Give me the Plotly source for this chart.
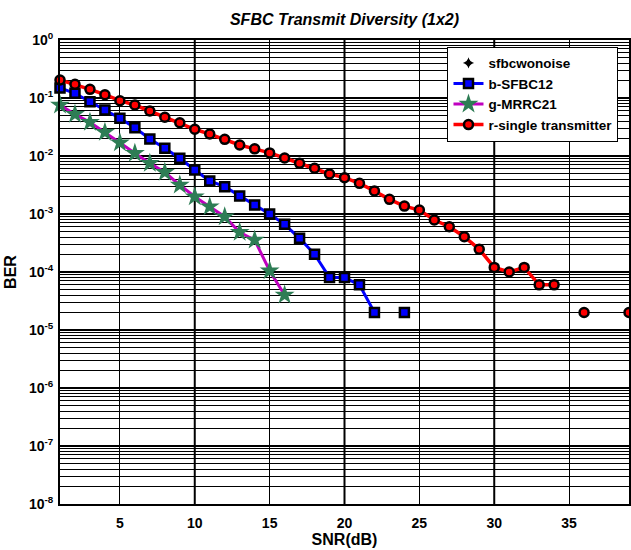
import plotly.graph_objects as go

snr = list(range(1, 40))

sfbc12 = [0.149, 0.1205, 0.0863, 0.0621, 0.0447, 0.0308, 0.0196, 0.0136, 0.00912, 0.00574,
          0.00371, 0.00296, 0.00204, 0.00143, 0.00100, 0.000664, 0.000381, 0.000202, 8.0e-5, 8.0e-5,
          6.0e-5, 2.0e-5, None, 2.0e-5] + [None] * 15

mrrc21 = [0.0757, 0.0524, 0.0381, 0.0256, 0.01695, 0.01114, 0.00748, 0.00524, 0.00316, 0.00199,
          0.00134, 0.000898, 0.000483, 0.000356, 1.05e-4, 4.0e-5] + [None] * 23

single = [0.204, 0.172, 0.141, 0.114, 0.0898, 0.0757, 0.0597, 0.0465, 0.0375, 0.0289,
          0.0239, 0.0194, 0.0155, 0.0133, 0.0113, 0.00924, 0.00748, 0.00614, 0.00490, 0.00423,
          0.00338, 0.00249, 0.00179, 0.00137, 0.00117, 0.000788, 0.000604, 0.000406, 0.000246, 1.2e-4,
          1.0e-4, 1.2e-4, 6.0e-5, 6.0e-5, None, 2.0e-5, None, None, 2.0e-5]

x_ticks = [5, 10, 15, 20, 25, 30, 35]
thick_x_grid = [10, 20, 30]
y_exps = list(range(-8, 1))
y_ticktext = ["10<sup>%d</sup>" % e for e in y_exps]
y_minor = [k * 10.0 ** e for e in range(-8, 0) for k in range(2, 10)]

FONT = "Liberation Sans"

fig = go.Figure()

fig.add_trace(go.Scatter(
    x=[None], y=[None], mode="markers", name="<b>sfbcwonoise</b>", legendgroup="a",
    marker=dict(symbol="star-diamond", size=8, color="black")))

fig.add_trace(go.Scatter(
    x=snr, y=sfbc12, mode="lines+markers", name="<b>b-SFBC12</b>", legendgroup="b",
    line=dict(color="#0000ff", width=3),
    marker=dict(symbol="square", size=9, color="#0000ff", line=dict(color="black", width=2.5)),
    cliponaxis=False))

fig.add_trace(go.Scatter(
    x=snr, y=mrrc21, mode="lines+markers", name="<b>g-MRRC21</b>", legendgroup="c",
    line=dict(color="#bf00bf", width=3),
    marker=dict(symbol="star", size=15, color="#2e7d55", line=dict(width=0)),
    cliponaxis=False))

fig.add_trace(go.Scatter(
    x=snr, y=single, mode="lines+markers", name="<b>r-single transmitter</b>", legendgroup="d",
    line=dict(color="#ff0000", width=3.5),
    marker=dict(symbol="circle", size=9, color="#ff0000", line=dict(color="black", width=2.5)),
    cliponaxis=False))

for xv in thick_x_grid:
    fig.add_shape(type="line", xref="x", yref="paper", x0=xv, x1=xv, y0=0, y1=1,
                  line=dict(color="black", width=2), layer="below")

fig.update_layout(
    width=631, height=550,
    margin=dict(l=60, r=0, t=40, b=46),
    paper_bgcolor="white", plot_bgcolor="white",
    font=dict(family=FONT, color="black", size=14),
    title=dict(text="<b><i>SFBC Transmit Diversity (1x2)</i></b>", x=0.5, xref="paper",
               xanchor="center", y=1 - 19 / 550, yref="container", yanchor="middle",
               font=dict(size=16, family=FONT)),
    showlegend=True,
    legend=dict(x=0.681, y=0.9856, xanchor="left", yanchor="top",
                bgcolor="white", bordercolor="black", borderwidth=1,
                font=dict(size=13.5, family=FONT), tracegroupgap=0,
                itemwidth=30),
)

fig.update_xaxes(
    range=[1, 39], tickvals=x_ticks, ticktext=["<b>%d</b>" % v for v in x_ticks],
    showgrid=True, gridcolor="black", gridwidth=1,
    showline=True, linecolor="black", linewidth=2, mirror=True,
    ticks="", zeroline=False, ticklabelstandoff=5,
    title=dict(text="<b>SNR(dB)</b>", font=dict(size=16, family=FONT), standoff=4),
    tickfont=dict(size=14, family=FONT),
)

fig.update_yaxes(
    type="log", range=[-8, 0],
    tickvals=[10.0 ** e for e in y_exps], ticktext=["<b>%s</b>" % t for t in y_ticktext],
    showgrid=True, gridcolor="black", gridwidth=1.5,
    minor=dict(tickvals=y_minor, showgrid=True, gridcolor="black", gridwidth=1, ticks=""),
    showline=True, linecolor="black", linewidth=2, mirror=True,
    ticks="", zeroline=False, ticklabelstandoff=2,
    title=dict(text="<b>BER</b>", font=dict(size=16, family=FONT), standoff=8),
    tickfont=dict(size=14, family=FONT),
)

fig.write_html("out.html", config={"displayModeBar": False},
               post_script="document.body.style.margin='0';document.body.style.overflow='hidden';")
